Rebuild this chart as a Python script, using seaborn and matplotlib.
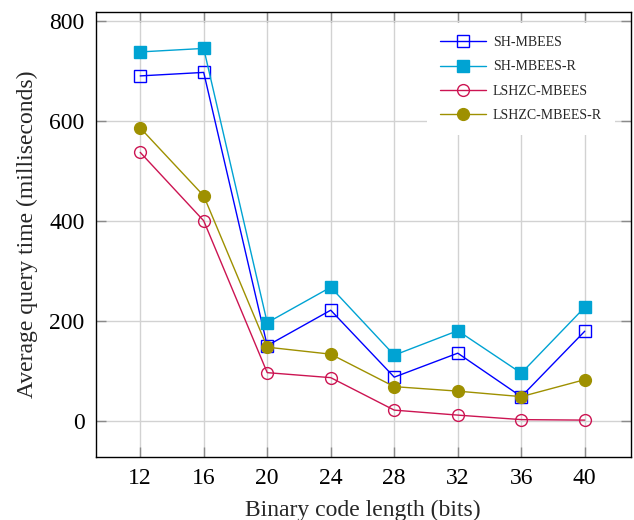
import matplotlib
matplotlib.use("Agg")
import matplotlib.pyplot as plt
import seaborn as sns
import pandas as pd

# Data
code_lengths = [12, 16, 20, 24, 28, 32, 36, 40]
sh_mbees = [690, 697, 150, 221, 87, 135, 48, 179]
sh_mbees_r = [738, 745, 196, 267, 131, 180, 95, 227]
lshzc_mbees = [537, 400, 96, 86, 21, 11, 2, 1]
lshzc_mbees_r = [586, 450, 147, 133, 68, 59, 48, 82]

series_names = ["SH-MBEES", "SH-MBEES-R", "LSHZC-MBEES", "LSHZC-MBEES-R"]

df = pd.DataFrame({
    "bits": code_lengths * 4,
    "time": sh_mbees + sh_mbees_r + lshzc_mbees + lshzc_mbees_r,
    "method": [n for n in series_names for _ in code_lengths],
})

sns.set_theme(style="whitegrid")
plt.rcParams["font.family"] = ["Liberation Serif", "DejaVu Serif"]

fig, ax = plt.subplots(figsize=(6.34, 5.2), dpi=100)

palette = {
    "SH-MBEES": "#0000ff",
    "SH-MBEES-R": "#00a3d3",
    "LSHZC-MBEES": "#cc1452",
    "LSHZC-MBEES-R": "#9e9000",
}
markers = {"SH-MBEES": "s", "SH-MBEES-R": "s", "LSHZC-MBEES": "o", "LSHZC-MBEES-R": "o"}
filled = {"SH-MBEES": False, "SH-MBEES-R": True, "LSHZC-MBEES": False, "LSHZC-MBEES-R": True}

for name in series_names:
    sub = df[df["method"] == name]
    c = palette[name]
    sns.lineplot(
        data=sub, x="bits", y="time", ax=ax, label=name,
        color=c, linewidth=1.0, marker=markers[name], markersize=8.5,
        markerfacecolor=c if filled[name] else "none",
        markeredgecolor=c, markeredgewidth=1.0,
    )

ax.set_xlim(9.2, 42.9)
ax.set_ylim(-73, 818)
ax.set_xticks(code_lengths)
ax.set_yticks([0, 200, 400, 600, 800])
ax.grid(True, color="#d2d2d2", linewidth=1.0)
ax.set_facecolor("white")
for s in ax.spines.values():
    s.set_color("black")
    s.set_linewidth(1.0)

ax.tick_params(direction="in", length=7, width=1.0, colors="#8a8a8a",
               labelcolor="black", labelsize=17, pad=8, top=True, right=True,
               bottom=True, left=True)
ax.set_xlabel("Binary code length (bits)", fontsize=17, labelpad=8)
ax.set_ylabel("Average query time (milliseconds)", fontsize=17, labelpad=8)

leg = ax.legend(loc="upper left", fontsize=10, frameon=True, fancybox=False,
                edgecolor="white", facecolor="white", framealpha=1.0,
                borderpad=0.95, handlelength=3.3, handletextpad=0.5,
                labelspacing=0.8, markerscale=1.0, borderaxespad=0,
                bbox_to_anchor=(0.619, 0.975))
leg.get_frame().set_linewidth(0)

fig.subplots_adjust(left=0.151, right=0.995, top=0.977, bottom=0.121)
plt.savefig("out.png", dpi=100)
plt.close()
